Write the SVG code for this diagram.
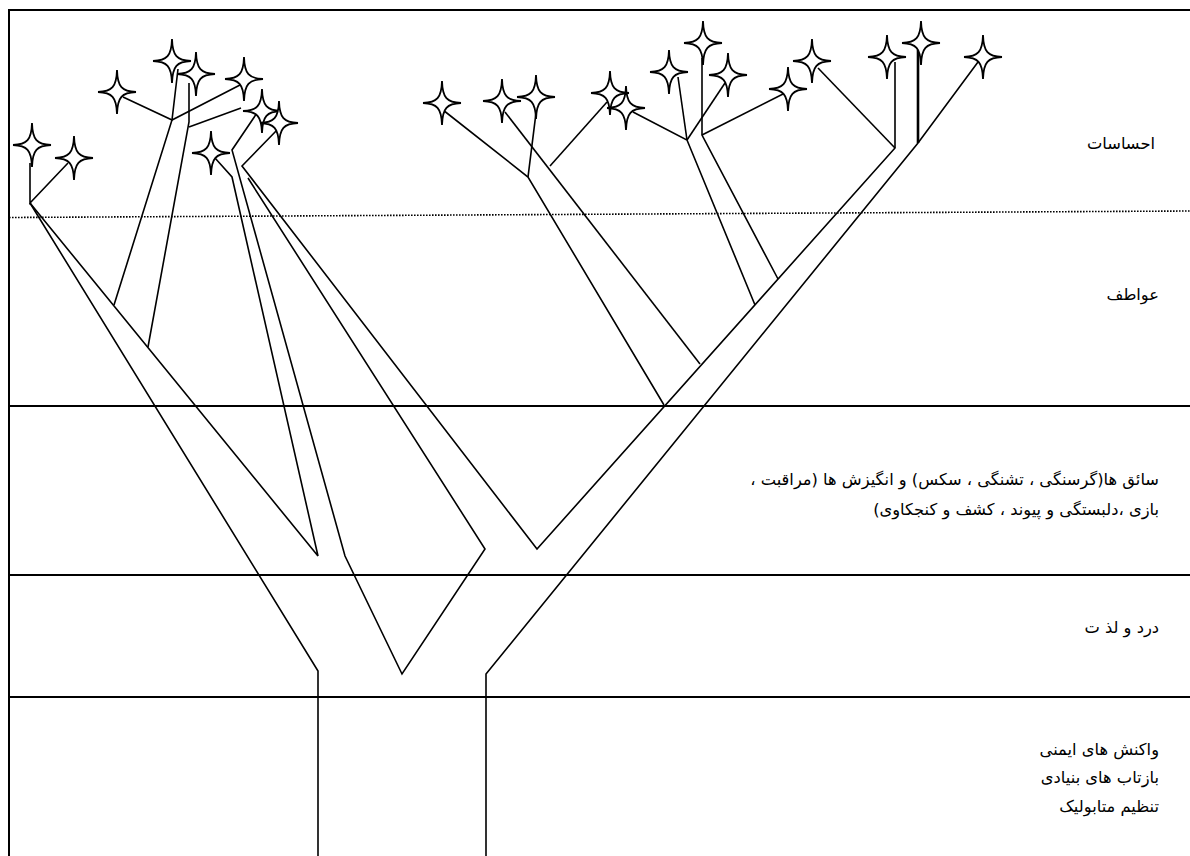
<svg xmlns="http://www.w3.org/2000/svg" width="1190" height="856" viewBox="0 0 1190 856">
<defs>
<style>
.frame{stroke:#000;stroke-width:2;fill:none}
.dot{stroke:#000;stroke-width:1.6;stroke-dasharray:1.6 1.4;fill:none}
.br{stroke:#000;stroke-width:1.6;fill:none;stroke-linejoin:miter}
.star{fill:#fff;stroke:#000;stroke-width:1.8;stroke-linejoin:miter}
.lbl{font-family:"DejaVu Sans",sans-serif;font-size:16.3px;fill:#000}
</style>
<path id="st" d="M0,-22 C0.5,-5 5,-0.5 19,0 C5,0.5 0.5,5 0,22 C-0.5,5 -5,0.5 -19,0 C-5,-0.5 -0.5,-5 0,-22 Z"/>
</defs>
<rect width="1190" height="856" fill="#fff"/>
<g id="frame">
<line class="frame" x1="9" y1="10" x2="1190" y2="10"/>
<line class="frame" x1="9" y1="9" x2="9" y2="856"/>
<line class="frame" x1="9" y1="406" x2="1190" y2="406"/>
<line class="frame" x1="9" y1="575" x2="1190" y2="575"/>
<line class="frame" x1="9" y1="697" x2="1190" y2="697"/>
<line class="dot" x1="9" y1="217.5" x2="1190" y2="211"/>
</g>
<g id="connectors">
<polyline class="br" points="30,163 30,203 68,163"/>
<polyline class="br" points="30,203 318,671 318,856"/>
<polyline class="br" points="30,203 318,556 232,177 215,158"/>
<polyline class="br" points="114,305 172,120 123,97"/>
<polyline class="br" points="178,69 172,120 240,85"/>
<polyline class="br" points="148,347 189,122 189,83"/>
<line class="br" x1="189" y1="127" x2="241" y2="108"/>
<polyline class="br" points="257,113 232,150 345,556 402,674 485,549 248,178"/>
<polyline class="br" points="278,129 242,166 537,549 895,148 895,62"/>
<polyline class="br" points="486,856 486,674 918,143 978,62"/>
<line class="br" x1="918" y1="143" x2="918" y2="50" style="stroke-width:2.6"/>
<line class="br" x1="818" y1="68" x2="895" y2="148"/>
<polyline class="br" points="443,110 528,177 664,405"/>
<line class="br" x1="528" y1="177" x2="536" y2="113"/>
<line class="br" x1="505" y1="112" x2="700" y2="364"/>
<line class="br" x1="550" y1="166" x2="607" y2="102"/>
<polyline class="br" points="633,112 687,140 755,305"/>
<line class="br" x1="678" y1="77" x2="687" y2="140"/>
<line class="br" x1="687" y1="140" x2="725" y2="83"/>
<polyline class="br" points="702,58 702,135 778,279"/>
<line class="br" x1="702" y1="135" x2="785" y2="93"/>
</g>
<g id="star1"><use href="#st" class="star" x="32" y="145"/></g>
<g id="star2"><use href="#st" class="star" x="74" y="158"/></g>
<g id="star3"><use href="#st" class="star" x="117" y="92"/></g>
<g id="star4"><use href="#st" class="star" x="172" y="61"/></g>
<g id="star5"><use href="#st" class="star" x="196" y="74"/></g>
<g id="star6"><use href="#st" class="star" x="244" y="79"/></g>
<g id="star7"><use href="#st" class="star" x="262" y="111"/></g>
<g id="star8"><use href="#st" class="star" x="279" y="123"/></g>
<g id="star9"><use href="#st" class="star" x="211" y="153"/></g>
<g id="star10"><use href="#st" class="star" x="442" y="103"/></g>
<g id="star11"><use href="#st" class="star" x="502" y="101"/></g>
<g id="star12"><use href="#st" class="star" x="536" y="97"/></g>
<g id="star13"><use href="#st" class="star" x="610" y="93"/></g>
<g id="star14"><use href="#st" class="star" x="626" y="108"/></g>
<g id="star15"><use href="#st" class="star" x="669" y="72"/></g>
<g id="star16"><use href="#st" class="star" x="703" y="43"/></g>
<g id="star17"><use href="#st" class="star" x="728" y="75"/></g>
<g id="star18"><use href="#st" class="star" x="788" y="89"/></g>
<g id="star19"><use href="#st" class="star" x="812" y="61"/></g>
<g id="star20"><use href="#st" class="star" x="887" y="57"/></g>
<g id="star21"><use href="#st" class="star" x="921" y="43"/></g>
<g id="star22"><use href="#st" class="star" x="983" y="57"/></g>
<g id="labels">
<text id="t1" class="lbl" x="1155" y="149" direction="rtl" text-anchor="start">احساسات</text>
<text id="t2" class="lbl" x="1159" y="300" direction="rtl" text-anchor="start">عواطف</text>
<text id="t3" class="lbl" direction="rtl" text-anchor="start"><tspan x="1159" y="485">سائق ها(گرسنگی ، تشنگی ، سکس) و انگیزش ها (مراقبت ،</tspan><tspan x="1159" y="515">بازی ،دلبستگی و پیوند ، کشف و کنجکاوی)</tspan></text>
<text id="t4" class="lbl" x="1159" y="633" direction="rtl" text-anchor="start">درد و لذ ت</text>
<text id="t5" class="lbl" direction="rtl" text-anchor="start"><tspan x="1159" y="755">واکنش های ایمنی</tspan><tspan x="1159" y="783">بازتاب های بنیادی</tspan><tspan x="1159" y="812">تنظیم متابولیک</tspan></text>
</g>
</svg>
